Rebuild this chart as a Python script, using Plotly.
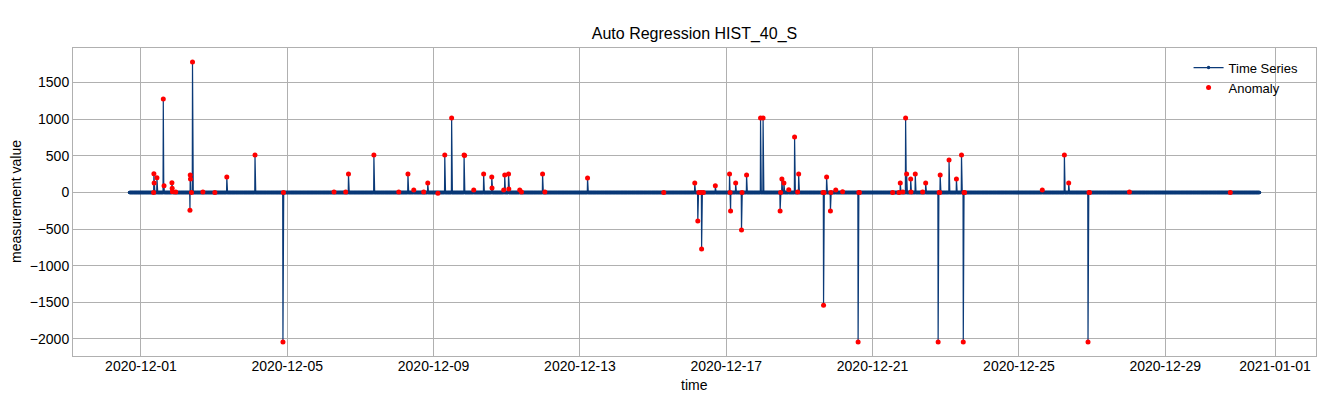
import pandas as pd
import plotly.graph_objects as go

# ---- data ----
series_start = "2020-11-30 16:30"
series_end = "2020-12-31 13:50"

anomaly_times = [
    "2020-12-01 08:20", "2020-12-01 08:30", "2020-12-01 08:40", "2020-12-01 10:30",
    "2020-12-01 14:40", "2020-12-01 15:10", "2020-12-01 20:20", "2020-12-01 20:30",
    "2020-12-01 20:40", "2020-12-01 22:50", "2020-12-02 08:10", "2020-12-02 08:20",
    "2020-12-02 08:30", "2020-12-02 09:10", "2020-12-02 09:50", "2020-12-02 16:40",
    "2020-12-03 00:30", "2020-12-03 08:20", "2020-12-04 02:50", "2020-12-04 21:10",
    "2020-12-04 21:30", "2020-12-06 06:40", "2020-12-06 14:20", "2020-12-06 16:10",
    "2020-12-07 08:50", "2020-12-08 01:10", "2020-12-08 07:10", "2020-12-08 11:00",
    "2020-12-08 17:30", "2020-12-08 20:10", "2020-12-09 02:50", "2020-12-09 07:20",
    "2020-12-09 11:50", "2020-12-09 20:00", "2020-12-09 20:20", "2020-12-10 02:20",
    "2020-12-10 08:50", "2020-12-10 14:10", "2020-12-10 14:20", "2020-12-10 22:00",
    "2020-12-10 22:40", "2020-12-11 01:10", "2020-12-11 01:20", "2020-12-11 08:30",
    "2020-12-11 09:40", "2020-12-11 23:30", "2020-12-12 01:00", "2020-12-13 05:00",
    "2020-12-15 07:00", "2020-12-16 03:20", "2020-12-16 05:20", "2020-12-16 06:00",
    "2020-12-16 07:30", "2020-12-16 07:50", "2020-12-16 09:00", "2020-12-16 16:50",
    "2020-12-17 02:10", "2020-12-17 02:30", "2020-12-17 02:50", "2020-12-17 06:10",
    "2020-12-17 10:00", "2020-12-17 10:20", "2020-12-17 13:20", "2020-12-17 22:30",
    "2020-12-18 00:10", "2020-12-18 11:20", "2020-12-18 11:40", "2020-12-18 12:30",
    "2020-12-18 13:50", "2020-12-18 17:00", "2020-12-18 20:50", "2020-12-18 22:50",
    "2020-12-18 23:30", "2020-12-19 15:30", "2020-12-19 15:50", "2020-12-19 16:10",
    "2020-12-19 17:50", "2020-12-19 20:20", "2020-12-19 20:40", "2020-12-19 23:50",
    "2020-12-20 04:20", "2020-12-20 14:30", "2020-12-20 15:00", "2020-12-20 15:20",
    "2020-12-21 13:10", "2020-12-21 17:20", "2020-12-21 18:10", "2020-12-21 19:50",
    "2020-12-21 21:40", "2020-12-21 22:20", "2020-12-22 01:00", "2020-12-22 01:10",
    "2020-12-22 04:00", "2020-12-22 08:50", "2020-12-22 10:50", "2020-12-22 19:00",
    "2020-12-22 19:40", "2020-12-22 20:00", "2020-12-22 20:20", "2020-12-23 02:10",
    "2020-12-23 07:00", "2020-12-23 10:20", "2020-12-23 11:30", "2020-12-23 12:00",
    "2020-12-23 12:20", "2020-12-25 15:20", "2020-12-26 05:50", "2020-12-26 08:40",
    "2020-12-26 21:20", "2020-12-26 22:00", "2020-12-26 22:20", "2020-12-28 00:30",
    "2020-12-30 18:40",
]
anomaly_values = [
    0, 255, 128, 200,
    1274, 91, 132, 55,
    10, 5, -245, 237,
    183, 0, 1779, 5,
    0, 210, 510, -2041,
    0, 5, 5, 251,
    510, 5, 251, 33,
    5, 128, -13, 510,
    1015, 510, 505, 33,
    251, 210, 60, 33,
    237, 251, 46, 33,
    5, 251, 5, 196,
    0, 128, -390, 0,
    0, -772, 0, 91,
    251, 0, -254, 128,
    -513, 0, 237, 1015,
    1015, -254, 0, 183,
    128, 37, 756, 5,
    251, 0, -1541, 0,
    210, -254, 0, 33,
    10, -2041, 0, 0,
    0, 0, 128, 5,
    1015, 251, 183, 5,
    251, 5, 128, -2041,
    0, 0, 237, 442,
    183, 510, -2041, 0,
    0, 33, 510, 128,
    -2041, 0, 0, 5,
    0,
]

x_tick_dates = ["2020-12-01", "2020-12-05", "2020-12-09", "2020-12-13", "2020-12-17",
                "2020-12-21", "2020-12-25", "2020-12-29", "2021-01-01"]
y_tick_values = [-2000, -1500, -1000, -500, 0, 500, 1000, 1500]

# ---- build the measured series: baseline at 0 with the spikes read above ----
idx = pd.date_range(series_start, series_end, freq="10min")
series = pd.Series(0.0, index=idx)
for t, v in zip(anomaly_times, anomaly_values):
    series[pd.Timestamp(t)] = v

LINE_C = "#0b3a78"
FONT = "Liberation Sans, Arial, sans-serif"

fig = go.Figure()
fig.add_trace(go.Scatter(
    x=series.index, y=series.values, mode="lines+markers", name="Time Series",
    line=dict(color=LINE_C, width=1.2), marker=dict(color=LINE_C, size=3.5),
))
fig.add_trace(go.Scatter(
    x=pd.to_datetime(anomaly_times), y=anomaly_values, mode="markers", name="Anomaly",
    marker=dict(color="#ff0000", size=5),
))

# matplotlib-like 5% margins
t0, t1 = series.index[0], series.index[-1]
span = t1 - t0
x_range = [t0 - span * 0.05, t1 + span * 0.05]
vmin, vmax = min(series.values), max(series.values)
vr = vmax - vmin
y_range = [vmin - 0.05 * vr, vmax + 0.05 * vr]

GRID = "#b0b0b0"
fig.update_layout(
    width=1326, height=393,
    margin=dict(l=73, r=10, t=48, b=37),
    paper_bgcolor="white", plot_bgcolor="white",
    font=dict(family=FONT, size=14, color="black"),
    title=dict(text="Auto Regression HIST_40_S", x=0.5, xref="paper", xanchor="center",
               y=1 - 33 / 393, yref="container", yanchor="middle",
               font=dict(size=16, color="black")),
    showlegend=True,
    legend=dict(x=0.99, xanchor="right", y=0.985, yanchor="top",
                bgcolor="rgba(0,0,0,0)", font=dict(size=13), tracegroupgap=0),
    xaxis=dict(range=x_range, tickvals=pd.to_datetime(x_tick_dates), tickformat="%Y-%m-%d",
               showgrid=True, gridcolor=GRID, gridwidth=1, zeroline=False,
               showline=True, linecolor=GRID, linewidth=1, mirror=True,
               ticks="", tickfont=dict(size=14), automargin=False, ticklabelstandoff=-3),
    yaxis=dict(range=y_range, tickvals=y_tick_values,
               showgrid=True, gridcolor=GRID, gridwidth=1, zeroline=False,
               showline=True, linecolor=GRID, linewidth=1, mirror=True,
               ticks="", tickfont=dict(size=14), automargin=False),
    annotations=[
        dict(text="time", x=0.5, xref="paper", y=-29 / 308, yref="paper",
             xanchor="center", yanchor="middle", showarrow=False, font=dict(size=14)),
        dict(text="measurement value", x=-57 / 1243, xref="paper", y=0.5, yref="paper",
             xanchor="center", yanchor="middle", textangle=-90, showarrow=False,
             font=dict(size=14)),
    ],
)

fig.write_html("out.html", config={"displayModeBar": False},
               post_script="document.body.style.margin='0';")
